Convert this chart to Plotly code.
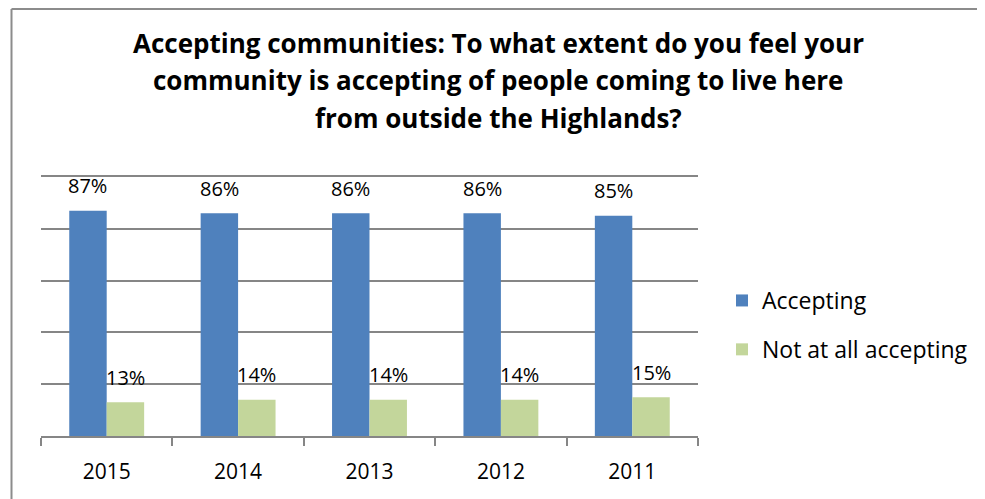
import plotly.graph_objects as go

years = ["2015", "2014", "2013", "2012", "2011"]
accepting = [87, 86, 86, 86, 85]
not_accepting = [13, 14, 14, 14, 15]
series_names = ["Accepting", "Not at all accepting"]
series_colors = ["#4F81BD", "#C3D69B"]
title_lines = [
    "Accepting communities: To what extent do you feel your",
    "community is accepting of people coming to live here",
    "from outside the Highlands?",
]

FONT = "Open Sans"
OFF = 8  # page body margin
W, H = 985 - OFF, 499 - OFF
L, T = 41 - OFF, 177 - OFF
R = W - (698 - OFF)
B = H - (436 - OFF)
plot_h = H - T - B
plot_w = W - L - R
bargap = 0.43
GRID = "#868686"


def px_x(px):
    return (px - OFF - L) / plot_w


def px_y(py):
    return (H - B - (py - OFF)) / plot_h


fig = go.Figure()
for name, vals, col in zip(series_names, [accepting, not_accepting], series_colors):
    fig.add_trace(go.Bar(
        x=years, y=vals, name=name, marker=dict(color=col, line=dict(width=0)),
        legendgroup=name,
    ))

# data labels above bars
bw = (1 - bargap) / 2
for k, vals in enumerate([accepting, not_accepting]):
    off = -bw / 2 if k == 0 else bw / 2
    for i, v in enumerate(vals):
        fig.add_annotation(
            x=i + off, y=v, xref="x", yref="y", text=f"{v}%", showarrow=False,
            yshift=25, yanchor="middle", xanchor="center",
            font=dict(family=FONT, size=20, color="#000000"),
        )

# title lines
for py, line in zip([43, 80, 118], title_lines):
    fig.add_annotation(
        x=px_x(498), y=px_y(py), xref="paper", yref="paper",
        text=f"<b>{line}</b>", showarrow=False, xanchor="center", yanchor="middle",
        font=dict(family=FONT, size=26, color="#000000"),
    )

# chart border (left and top edges)
fig.add_shape(type="line", xref="paper", yref="paper",
              x0=px_x(11.5), x1=px_x(11.5), y0=px_y(OFF + 1), y1=px_y(540),
              line=dict(color="#8C8C8C", width=2))
fig.add_shape(type="line", xref="paper", yref="paper",
              x0=px_x(11.5), x1=px_x(1010), y0=px_y(OFF + 1), y1=px_y(OFF + 1),
              line=dict(color="#8C8C8C", width=2))

fig.update_layout(
    width=W, height=H,
    margin=dict(l=L, r=R, t=T, b=B, pad=0),
    paper_bgcolor="white", plot_bgcolor="white",
    barmode="group", bargap=bargap, bargroupgap=0,
    font=dict(family=FONT, size=20, color="#000000"),
    showlegend=True,
    legend=dict(
        x=px_x(722), y=px_y(279), xanchor="left", yanchor="top",
        font=dict(family=FONT, size=23, color="#000000"),
        traceorder="grouped", tracegroupgap=16, bgcolor="rgba(0,0,0,0)",
        itemwidth=30,
    ),
)
fig.update_xaxes(
    type="category", showline=True, linecolor=GRID, linewidth=1.5, mirror=True,
    ticks="outside", tickson="boundaries", ticklen=8, tickcolor=GRID, tickwidth=1.5,
    showgrid=False, tickfont=dict(family=FONT, size=21, color="#000000"),
    ticklabelstandoff=16,
)
fig.update_yaxes(
    range=[0, 100], dtick=20, showgrid=True, gridcolor=GRID, gridwidth=1.5,
    showticklabels=False, zeroline=False, showline=False, ticks="",
)

fig.write_html("out.html")
